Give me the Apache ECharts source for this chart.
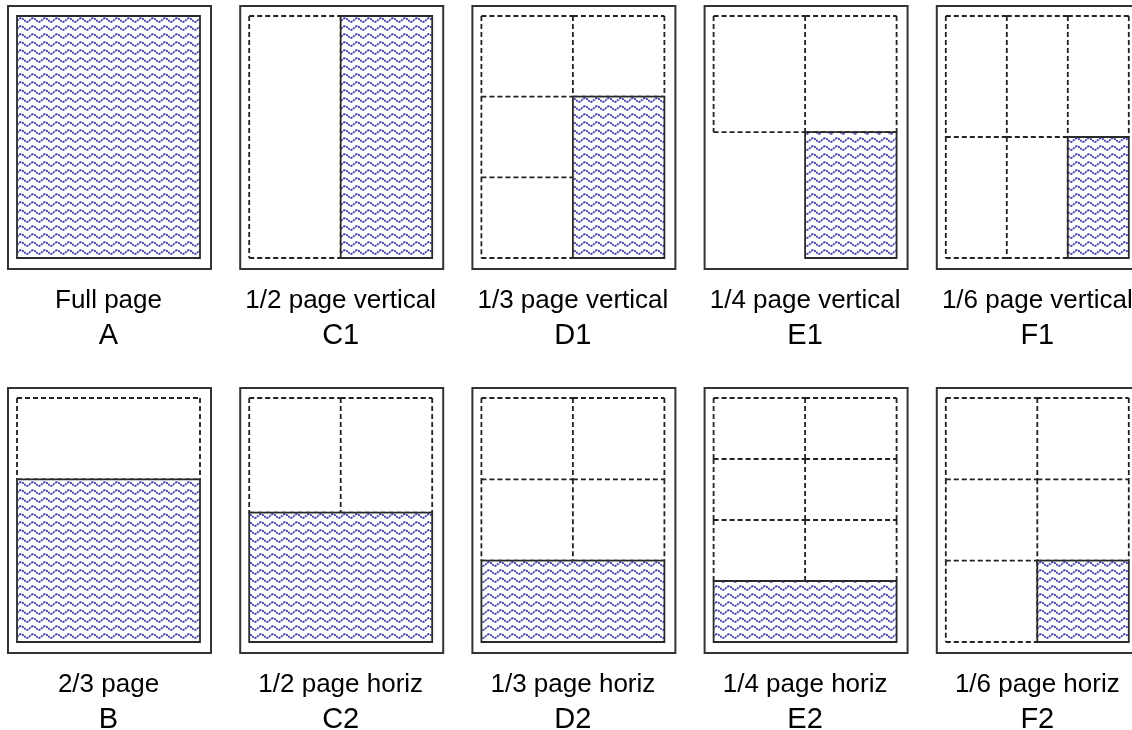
<!DOCTYPE html>
<html>
<head>
<meta charset="utf-8">
<script src="https://cdn.jsdelivr.net/npm/echarts@6/dist/echarts.min.js"></script>
<style>
  html, body { margin: 0; background: #fff; }
  #main { width: 1132px; height: 730px; }
</style>
</head>
<body>
<div id="main"></div>
<script>
const chart = echarts.init(document.getElementById("main"));

// layout captions
const layoutNames = ["Full page", "1/2 page vertical", "1/3 page vertical", "1/4 page vertical", "1/6 page vertical",
    "2/3 page", "1/2 page horiz", "1/3 page horiz", "1/4 page horiz", "1/6 page horiz"];
const layoutCodes = ["A", "C1", "D1", "E1", "F1", "B", "C2", "D2", "E2", "F2"];

// ad area on the page: [left, top, right, bottom] as page fractions
const adAreas = [
    [0, 0, 1, 1],
    [0.5, 0, 1, 1],
    [0.5, 1 / 3, 1, 1],
    [0.5, 0.48, 1, 1],
    [2 / 3, 0.5, 1, 1],
    [0, 1 / 3, 1, 1],
    [0, 0.47, 1, 1],
    [0, 2 / 3, 1, 1],
    [0, 0.75, 1, 1],
    [0.5, 2 / 3, 1, 1]
];

// the other (dashed) blocks on the page
const freeBlocks = [
    [],
    [[0, 0, 0.5, 1]],
    [[0, 0, 0.5, 1 / 3], [0.5, 0, 1, 1 / 3], [0, 1 / 3, 0.5, 2 / 3], [0, 2 / 3, 0.5, 1]],
    [[0, 0, 0.5, 0.48], [0.5, 0, 1, 0.48]],
    [[0, 0, 1 / 3, 0.5], [1 / 3, 0, 2 / 3, 0.5], [2 / 3, 0, 1, 0.5], [0, 0.5, 1 / 3, 1], [1 / 3, 0.5, 2 / 3, 1]],
    [[0, 0, 1, 1 / 3]],
    [[0, 0, 0.5, 0.47], [0.5, 0, 1, 0.47]],
    [[0, 0, 0.5, 1 / 3], [0.5, 0, 1, 1 / 3], [0, 1 / 3, 0.5, 2 / 3], [0.5, 1 / 3, 1, 2 / 3]],
    [[0, 0, 0.5, 0.25], [0.5, 0, 1, 0.25], [0, 0.25, 0.5, 0.5], [0.5, 0.25, 1, 0.5], [0, 0.5, 0.5, 0.75], [0.5, 0.5, 1, 0.75]],
    [[0, 0, 0.5, 1 / 3], [0.5, 0, 1, 1 / 3], [0, 1 / 3, 0.5, 2 / 3], [0.5, 1 / 3, 1, 2 / 3], [0, 2 / 3, 0.5, 1]]
];

// wavy fill tile
const waveTile = document.createElement("canvas");
waveTile.width = 12;
waveTile.height = 8;
(function () {
    const ctx = waveTile.getContext("2d");
    ctx.fillStyle = "#fff";
    ctx.fillRect(0, 0, 12, 8);
    ctx.strokeStyle = "rgba(55,55,170,1)";
    ctx.lineWidth = 1.7;
    ctx.setLineDash([2.2, 0.8]);
    ctx.beginPath();
    for (let x = 0; x <= 12; x += 0.5) {
        const y = 4 + 1.9 * Math.sin(x / 12 * 2 * Math.PI);
        if (x === 0) ctx.moveTo(x, y); else ctx.lineTo(x, y);
    }
    ctx.stroke();
})();
const wavePattern = { image: waveTile, repeat: "repeat" };

// block outlines -> unique edges, so shared dashes don't pile up
function blockEdges(blocks) {
    const seen = {};
    const edges = [];
    blocks.forEach(b => {
        [[b[0], b[1], b[2], b[1]], [b[0], b[3], b[2], b[3]], [b[0], b[1], b[0], b[3]], [b[2], b[1], b[2], b[3]]]
            .forEach(e => {
                const key = e.map(v => v.toFixed(3)).join(",");
                if (!seen[key]) {
                    seen[key] = true;
                    edges.push(e);
                }
            });
    });
    return edges;
}

function renderItem(params, api) {
    const kind = api.value(4);
    const p0 = api.coord([api.value(0), api.value(1)]);
    const p1 = api.coord([api.value(2), api.value(3)]);
    if (kind === 0) {
        return {
            type: "line",
            shape: { x1: p0[0], y1: p0[1], x2: p1[0], y2: p1[1] },
            style: { stroke: "#222", lineWidth: 1.8, lineDash: [5, 3] }
        };
    }
    const shape = { x: p0[0], y: p0[1], width: p1[0] - p0[0], height: p1[1] - p0[1] };
    if (kind === 1) {
        return {
            type: "rect",
            shape: shape,
            style: { fill: wavePattern, stroke: "#2a2a2a", lineWidth: 1.8 }
        };
    }
    // page frame and caption
    const i = api.value(5);
    const cx = shape.x + shape.width / 2;
    const bottom = shape.y + shape.height;
    return {
        type: "group",
        children: [
            {
                type: "rect",
                shape: { x: shape.x - 9, y: shape.y - 10, width: shape.width + 20, height: shape.height + 21 },
                style: { fill: null, stroke: "#333", lineWidth: 2 }
            },
            {
                type: "text",
                style: {
                    text: layoutNames[i], x: cx, y: bottom + 43, align: "center", verticalAlign: "middle",
                    fill: "#000", font: '26px "Liberation Sans", Arial, sans-serif'
                }
            },
            {
                type: "text",
                style: {
                    text: layoutCodes[i], x: cx, y: bottom + 78, align: "center", verticalAlign: "middle",
                    fill: "#000", font: '29px "Liberation Sans", Arial, sans-serif'
                }
            }
        ]
    };
}

const grids = [], xAxes = [], yAxes = [], series = [];
layoutNames.forEach((name, i) => {
    const row = Math.floor(i / 5), col = i % 5;
    grids.push({
        left: 17 + col * 232.2,
        top: row === 0 ? 16 : 398,
        width: 183,
        height: row === 0 ? 242 : 244
    });
    xAxes.push({ gridIndex: i, type: "value", min: 0, max: 1, show: false });
    yAxes.push({ gridIndex: i, type: "value", min: 0, max: 1, inverse: true, show: false });

    const data = [[0, 0, 1, 1, 2, i]];
    blockEdges(freeBlocks[i]).forEach(e => data.push([e[0], e[1], e[2], e[3], 0, i]));
    const a = adAreas[i];
    data.push([a[0], a[1], a[2], a[3], 1, i]);

    series.push({
        name: name,
        type: "custom",
        xAxisIndex: i,
        yAxisIndex: i,
        renderItem: renderItem,
        data: data,
        silent: true,
        animation: false
    });
});

chart.setOption({
    backgroundColor: "#fff",
    animation: false,
    grid: grids,
    xAxis: xAxes,
    yAxis: yAxes,
    series: series
});
</script>
</body>
</html>
